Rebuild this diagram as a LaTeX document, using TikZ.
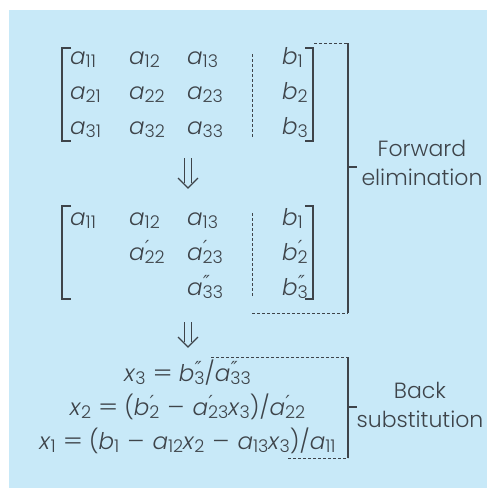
\documentclass[tikz,border=0pt]{standalone}
\usepackage{fontspec}
\usepackage{graphicx}
\setmainfont{Poppins}[UprightFont=* Light,ItalicFont=* Light Italic]
\newfontfamily\djv{DejaVu Sans}
\definecolor{bgblue}{RGB}{200,233,248}
\definecolor{ink}{RGB}{62,68,74}
\newcommand\sbs[1]{\raisebox{-0.3ex}{\fontsize{17.5}{17}\selectfont #1}}
\newcommand\pr[1]{\rlap{\hspace{0.5pt}\raisebox{0.55ex}{\fontsize{18}{18}\selectfont\djv\itshape #1}}}
\newcommand\V[3]{\textit{#1}\pr{#2}\sbs{#3}}
\newcommand\eqs{\hspace{7pt}\scalebox{1.3}[1]{=}\hspace{6pt}}
\newcommand\mns{\hspace{8pt}\scalebox{1.15}[1]{–}\hspace{8pt}}
\tikzset{
  ent/.style={anchor=base west,inner sep=0pt,text=ink,font=\fontsize{23}{26}\selectfont},
  eq/.style={anchor=base,inner sep=0pt,text=ink,font=\fontsize{23}{26}\selectfont},
  lab/.style={align=center,inner sep=0pt,text=ink,font=\fontsize{22}{29}\selectfont},
  brk/.style={draw=ink,line width=1.2pt},
  dsh/.style={draw=ink,line width=1pt,dash pattern=on 3pt off 2pt},
  arr/.style={draw=ink,line width=1.1pt}
}
\begin{document}
\begin{tikzpicture}[x=1pt,y=-1pt]
\useasboundingbox (0,0) rectangle (487,488);
\fill[bgblue] (9,10) rectangle (487,488);
% matrix 1
\node[ent] (m11) at (70,64) {\V{a}{}{11}};
\node[ent] (m12) at (129,64) {\V{a}{}{12}};
\node[ent] (m13) at (187,64) {\V{a}{}{13}};
\node[ent] (mb1) at (282,64) {\V{b}{}{1}};
\node[ent] (m21) at (70,99) {\V{a}{}{21}};
\node[ent] (m22) at (129,99) {\V{a}{}{22}};
\node[ent] (m23) at (187,99) {\V{a}{}{23}};
\node[ent] (mb2) at (282,99) {\V{b}{}{2}};
\node[ent] (m31) at (70,134) {\V{a}{}{31}};
\node[ent] (m32) at (129,134) {\V{a}{}{32}};
\node[ent] (m33) at (187,134) {\V{a}{}{33}};
\node[ent] (mb3) at (282,134) {\V{b}{}{3}};
\draw[brk] (71,48) -- (62,48) -- (62,141) -- (71,141);
\draw[brk] (305,48) -- (313,48) -- (313,141) -- (305,141);
\draw[dsh] (252,54) -- (252,137);
% arrow 1
\draw[arr] (184.5,158) -- (184.5,183) (191.5,158) -- (191.5,183);
\draw[arr,line join=miter] (178,178) -- (188,188) -- (198,178);
% matrix 2
\node[ent] (n11) at (70,225) {\V{a}{}{11}};
\node[ent] (n12) at (129,225) {\V{a}{}{12}};
\node[ent] (n13) at (187,225) {\V{a}{}{13}};
\node[ent] (nb1) at (282,225) {\V{b}{}{1}};
\node[ent] (n22) at (129,260) {\V{a}{′}{22}};
\node[ent] (n23) at (187,260) {\V{a}{′}{23}};
\node[ent] (nb2) at (282,260) {\V{b}{′}{2}};
\node[ent] (n33) at (187,295) {\V{a}{″}{33}};
\node[ent] (nb3) at (282,295) {\V{b}{″}{3}};
\draw[brk] (71,206) -- (62,206) -- (62,299) -- (71,299);
\draw[brk] (305,206) -- (313,206) -- (313,299) -- (305,299);
\draw[dsh] (252,213) -- (252,297);
% forward elimination bracket
\draw[dsh] (314,43) -- (348,43);
\draw[dsh] (252,313) -- (348,313);
\draw[brk] (348,43) -- (348,313);
\draw[brk] (348,167) -- (357,167);
\node[lab] (fe) at (422,163) {Forward\\elimination};
% arrow 2
\draw[arr] (184.5,322) -- (184.5,342) (191.5,322) -- (191.5,342);
\draw[arr,line join=miter] (178,337) -- (188,347) -- (198,337);
% back substitution
\node[eq] (e3) at (187.5,381) {\V{x}{}{3}\eqs\V{b}{″}{3}/\V{a}{″}{33}};
\node[eq] (e2) at (187.5,415) {\V{x}{}{2}\eqs(\V{b}{′}{2}\mns\V{a}{′}{23}\V{x}{}{3})/\V{a}{′}{22}};
\node[eq] (e1) at (187.5,449) {\V{x}{}{1}\eqs(\V{b}{}{1}\mns\V{a}{}{12}\V{x}{}{2}\mns\V{a}{}{13}\V{x}{}{3})/\V{a}{}{11}};
\draw[dsh] (211,357) -- (348,357);
\draw[dsh] (288,458) -- (348,458);
\draw[brk] (348,357) -- (348,458);
\draw[brk] (348,407) -- (357,407);
\node[lab] (bs) at (420,405) {Back\\substitution};
\end{tikzpicture}
\end{document}
